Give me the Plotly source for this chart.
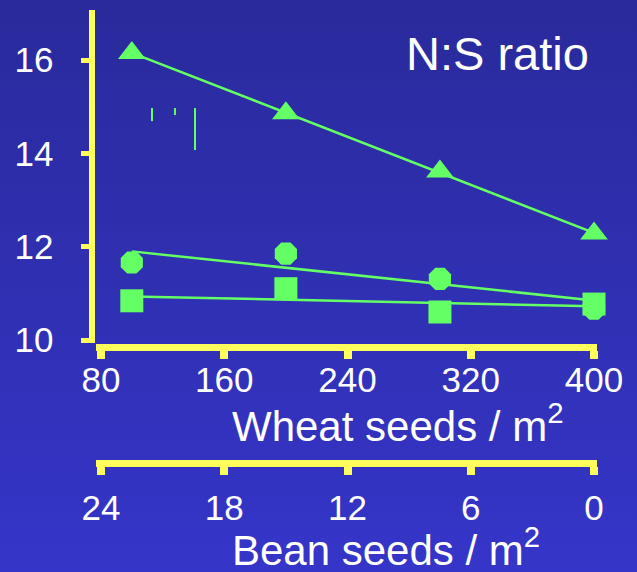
import base64
import numpy as np
import plotly.graph_objects as go

# ---------------- data ----------------
wheat_seeds = [100, 200, 300, 400]
ns_triangle = [16.15, 14.86, 13.61, 12.28]
ns_circle = [11.66, 11.85, 11.31, 10.67]
ns_square = [10.84, 11.10, 10.60, 10.77]

wheat_ticks = [80, 160, 240, 320, 400]
bean_ticks = [24, 18, 12, 6, 0]
y_ticks = [10, 12, 14, 16]

# small stray vertical strokes visible in the chart
frag_x = [113.1, 113.1, None, 128.0, 128.0, None, 141.0, 141.0]
frag_y = [14.97, 14.69, None, 14.97, 14.82, None, 14.97, 14.07]

W, H = 637, 572
GREEN = "#64ff64"
YELLOW = "#ffff5c"
FONT = "Liberation Sans, Arial, sans-serif"


def px(x):
    return x / W


def py(y):
    return 1 - y / H


fig = go.Figure()

# regression lines
for ys in (ns_triangle, ns_circle, ns_square):
    k, b = np.polyfit(wheat_seeds, ys, 1)
    xs = np.array([wheat_seeds[0], wheat_seeds[-1]])
    fig.add_trace(go.Scatter(x=xs, y=k * xs + b, mode="lines",
                             line=dict(color=GREEN, width=2.5),
                             cliponaxis=False,
                             hoverinfo="skip", showlegend=False))

fig.add_trace(go.Scatter(x=frag_x, y=frag_y, mode="lines",
                         line=dict(color=GREEN, width=2),
                         hoverinfo="skip", showlegend=False))

fig.add_trace(go.Scatter(x=wheat_seeds, y=ns_triangle, mode="markers",
                         marker=dict(symbol="triangle-up", size=24, color=GREEN),
                         cliponaxis=False, showlegend=False))
fig.add_trace(go.Scatter(x=wheat_seeds, y=ns_circle, mode="markers",
                         marker=dict(symbol="octagon", size=24, color=GREEN),
                         cliponaxis=False, showlegend=False))
fig.add_trace(go.Scatter(x=wheat_seeds, y=ns_square, mode="markers",
                         marker=dict(symbol="square", size=23, color=GREEN),
                         cliponaxis=False, showlegend=False))

# invisible trace to carry the bean-seed axis
fig.add_trace(go.Scatter(x=bean_ticks, y=[None] * len(bean_ticks), xaxis="x2",
                         yaxis="y", mode="markers", showlegend=False,
                         hoverinfo="skip"))

# gradient background
svg = ('<svg xmlns="http://www.w3.org/2000/svg" width="637" height="572" '
       'preserveAspectRatio="none">'
       '<defs><linearGradient id="g" x1="0" y1="0" x2="0" y2="1">'
       '<stop offset="0" stop-color="#2a2a9c"/>'
       '<stop offset="1" stop-color="#3535c9"/></linearGradient></defs>'
       '<rect width="637" height="572" fill="url(#g)"/></svg>')
src = "data:image/svg+xml;base64," + base64.b64encode(svg.encode()).decode()

x_px0, x_px1 = 96, 597
px_per_w = (594 - 101) / (400 - 80)
x_range = [80 - (101 - x_px0) / px_per_w, 400 + (x_px1 - 594) / px_per_w]
px_per_b = (594 - 101) / 24
b_range = [24 + (101 - x_px0) / px_per_b, 0 - (x_px1 - 594) / px_per_b]

y_top, y_bot = 10, 343
px_per_y = (340 - 60) / 6
y_range = [10 - (y_bot - 340) / px_per_y, 16 + (60 - y_top) / px_per_y]

tickfont = dict(family=FONT, size=35, color="white")

fig.update_layout(
    width=W, height=H,
    margin=dict(l=0, r=0, t=0, b=0, pad=0, autoexpand=False),
    paper_bgcolor="#3030b0",
    plot_bgcolor="rgba(0,0,0,0)",
    images=[dict(source=src, xref="paper", yref="paper", x=0, y=1,
                 sizex=1, sizey=1, sizing="stretch", layer="below",
                 xanchor="left", yanchor="top")],
    xaxis=dict(domain=[px(x_px0), px(x_px1)], range=x_range,
               anchor="free", position=py(347),
               showgrid=False, zeroline=False,
               showline=True, linecolor=YELLOW, linewidth=7,
               ticks="outside", ticklen=8, tickwidth=8, tickcolor=YELLOW,
               tickvals=wheat_ticks, ticktext=[str(v) for v in wheat_ticks],
               tickfont=tickfont, ticklabelstandoff=-9),
    xaxis2=dict(domain=[px(x_px0), px(x_px1)], range=b_range,
                anchor="free", position=py(463), overlaying="x",
                showgrid=False, zeroline=False,
                showline=True, linecolor=YELLOW, linewidth=7,
                ticks="outside", ticklen=8, tickwidth=8, tickcolor=YELLOW,
                tickvals=bean_ticks, ticktext=[str(v) for v in bean_ticks],
                tickfont=tickfont, ticklabelstandoff=3, side="bottom"),
    yaxis=dict(domain=[py(y_bot), py(y_top)], range=y_range,
               anchor="free", position=px(91.5),
               showgrid=False, zeroline=False,
               showline=True, linecolor=YELLOW, linewidth=6,
               ticks="outside", ticklen=8, tickwidth=5, tickcolor=YELLOW,
               tickvals=y_ticks, ticktext=[str(v) for v in y_ticks],
               tickfont=tickfont, ticklabelstandoff=20),
    annotations=[
        dict(text="N:S ratio", x=px(497), y=py(53), xref="paper", yref="paper",
             xanchor="center", yanchor="middle", showarrow=False,
             font=dict(family=FONT, size=47, color="white")),
        dict(text="Wheat seeds / m<sup>2</sup>", x=px(230), y=py(423),
             xref="paper", yref="paper", xanchor="left", yanchor="middle",
             showarrow=False, font=dict(family=FONT, size=42, color="white")),
        dict(text="Bean seeds / m<sup>2</sup>", x=px(230), y=py(547),
             xref="paper", yref="paper", xanchor="left", yanchor="middle",
             showarrow=False, font=dict(family=FONT, size=42, color="white")),
    ],
)

fig.write_html(
    "out.html",
    config={"displayModeBar": False},
    post_script=("document.body.style.margin='0';"
                 "document.body.style.overflow='hidden';"
                 "document.body.style.background='#3030b0';"),
)
